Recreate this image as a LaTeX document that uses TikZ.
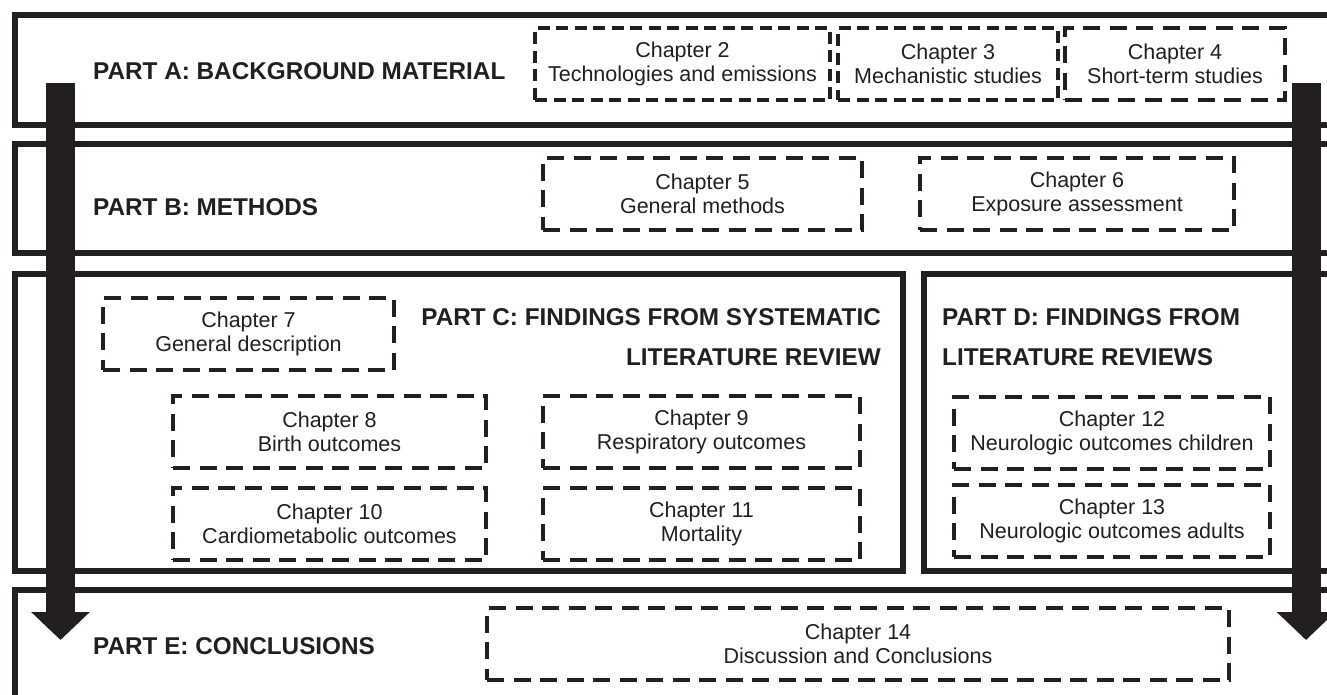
\documentclass[tikz,border=0pt]{standalone}
\usepackage{fontspec}
\setmainfont{Liberation Sans}
\usetikzlibrary{arrows.meta}
\definecolor{ink}{HTML}{231F20}
\begin{document}
\begin{tikzpicture}[x=1pt,y=-1pt,
  partframe/.style={draw=ink, line width=6pt},
  partlabel/.style={text=ink, font=\bfseries\fontsize{24.3}{40}\selectfont, inner sep=0pt},
  chapbox/.style={draw=ink, line width=3.6pt, dash pattern=on 17pt off 9.5pt,
    text=ink, align=center, inner sep=0pt, minimum height=72pt,
    font=\fontsize{21.5}{24}\selectfont},
  finedash/.style={dash pattern=on 12pt off 6.5pt},
  flow/.style={draw=ink, line width=29pt, -{Triangle[width=57pt,length=28pt]}}]
\useasboundingbox (0,0) rectangle (1327,694);
\clip (0,0) rectangle (1327,694);

% part frames
\draw[partframe] (15,15) rectangle (1345,125);
\draw[partframe] (15,144) rectangle (1345,253);
\draw[partframe] (15,274) rectangle (903,571);
\draw[partframe] (924,274) rectangle (1345,571);
\draw[partframe] (15,590) rectangle (1345,720);

% part titles
\node[partlabel, anchor=west] (pa) at (93,71) {PART A: BACKGROUND MATERIAL};
\node[partlabel, anchor=west] (pb) at (93,207) {PART B: METHODS};
\node[partlabel, anchor=east, align=right] (pc) at (881,337) {PART C: FINDINGS FROM SYSTEMATIC\\LITERATURE REVIEW};
\node[partlabel, anchor=west, align=left] (pd) at (942,337) {PART D: FINDINGS FROM\\LITERATURE REVIEWS};
\node[partlabel, anchor=west] (pe) at (93,646) {PART E: CONCLUSIONS};

% chapters
\node[chapbox, finedash, minimum width=295pt] (ch2) at (682.5,64) {Chapter 2\\Technologies and emissions};
\node[chapbox, finedash, minimum width=220pt] (ch3) at (948,64) {Chapter 3\\Mechanistic studies};
\node[chapbox, minimum width=220pt] (ch4) at (1175,64) {Chapter 4\\Short-term studies};
\node[chapbox, minimum width=319pt] (ch5) at (702.5,194) {Chapter 5\\General methods};
\node[chapbox, minimum width=314pt] (ch6) at (1077,194) {Chapter 6\\Exposure assessment};
\node[chapbox, minimum width=291pt] (ch7) at (248.5,334) {Chapter 7\\General description};
\node[chapbox, minimum width=313pt] (ch8) at (329.5,432) {Chapter 8\\Birth outcomes};
\node[chapbox, minimum width=317pt] (ch9) at (701.5,432) {Chapter 9\\Respiratory outcomes};
\node[chapbox, minimum width=313pt] (ch10) at (329.5,524) {Chapter 10\\Cardiometabolic outcomes};
\node[chapbox, minimum width=317pt] (ch11) at (701.5,524) {Chapter 11\\Mortality};
\node[chapbox, minimum width=316pt] (ch12) at (1112,433) {Chapter 12\\Neurologic outcomes children};
\node[chapbox, minimum width=316pt] (ch13) at (1112,521) {Chapter 13\\Neurologic outcomes adults};
\node[chapbox, minimum width=742pt] (ch14) at (858,644) {Chapter 14\\Discussion and Conclusions};

% reading-order arrows
\coordinate (lstart) at (60.5,83);
\coordinate (lend) at (60.5,640);
\coordinate (rstart) at (1306,83);
\coordinate (rend) at (1306,640);
\draw[flow] (lstart) -- (lend);
\draw[flow] (rstart) -- (rend);
\end{tikzpicture}
\end{document}
